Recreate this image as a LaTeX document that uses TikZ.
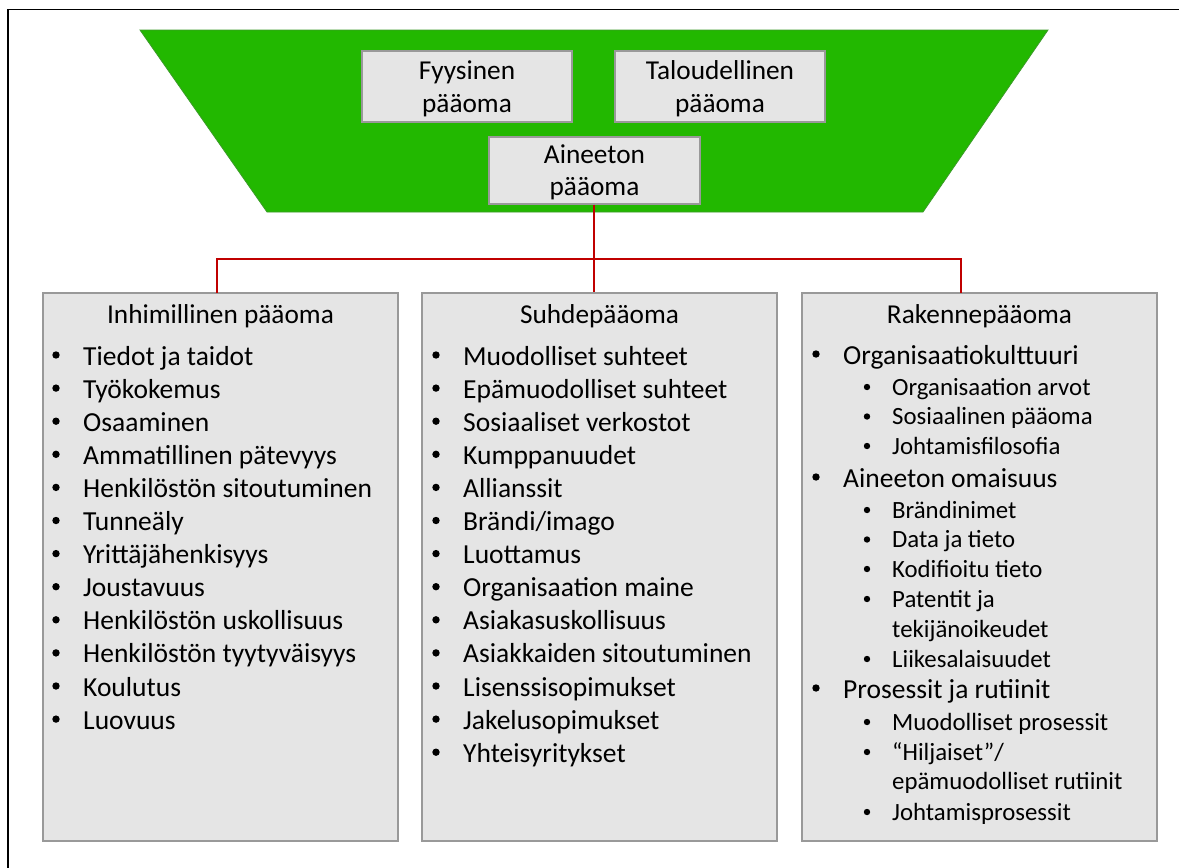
\documentclass[tikz,border=0pt]{standalone}
\usepackage{fontspec}
\setmainfont{Carlito}
\definecolor{grn}{HTML}{22B800}
\definecolor{grnedge}{HTML}{3C9A2A}
\definecolor{boxfill}{HTML}{E5E5E5}
\definecolor{boxedge}{HTML}{999999}
\definecolor{redline}{HTML}{C00000}
\tikzset{
  box/.style={draw=boxedge, fill=boxfill, line width=1.2pt, rectangle, inner sep=0pt},
  big/.style={font=\fontsize{27.5}{33}\selectfont, inner sep=0pt, anchor=base west},
  bigc/.style={font=\fontsize{27.3}{33}\selectfont, inner sep=0pt, anchor=base},
  small/.style={font=\fontsize{24.8}{30}\selectfont, inner sep=0pt, anchor=base west},
  bul/.style={circle, fill=black, inner sep=0pt, minimum size=7.4pt},
  sbul/.style={circle, fill=black, inner sep=0pt, minimum size=6.4pt},
  conn/.style={draw=redline, line width=2pt},
}
\begin{document}
\begin{tikzpicture}[x=1pt,y=-1pt]
\useasboundingbox (0,0) rectangle (1179,868);
\fill[white] (0,0) rectangle (1179,868);
% frame
\draw[black, line width=1.5pt] (8,868) -- (8,9.5) -- (1179,9.5);
% green trapezoid
\draw[grnedge, fill=grn, line width=0.8pt] (140,30) -- (1048,30) -- (923,212) -- (267,212) -- cycle;
% top boxes
\node[box, minimum width=210pt, minimum height=71pt] (F) at (467,86.5) {};
\node[box, minimum width=210pt, minimum height=71pt] (T) at (720,86.5) {};
\node[box, minimum width=211pt, minimum height=67pt] (A) at (594.5,170.5) {};
\node[bigc] (F1) at (467,79) {Fyysinen};
\node[bigc] (F2) at (467,112) {pääoma};
\node[bigc] (T1) at (720,79) {Taloudellinen};
\node[bigc] (T2) at (720,112) {pääoma};
\node[bigc] (A1) at (594.5,163) {Aineeton};
\node[bigc] (A2) at (594.5,195) {pääoma};
% bottom boxes
\node[box, minimum width=355pt, minimum height=548pt] (L) at (220.5,567) {};
\node[box, minimum width=355pt, minimum height=548pt] (M) at (599.5,567) {};
\node[box, minimum width=355pt, minimum height=548pt] (R) at (979.5,567) {};
% connectors
\coordinate (j) at (594,259);
\coordinate (cl) at (217,293);
\coordinate (cr) at (961,293);
\draw[conn] (A.south -| j) -- (j |- M.north);
\draw[conn] (cl) |- (j) -| (cr);
% titles
\node[bigc] (Lt) at (220.5,323) {Inhimillinen pääoma};
\node[bigc] (Mt) at (599.5,323) {Suhdepääoma};
\node[bigc] (Rt) at (979.5,323) {Rakennepääoma};
% left list
\foreach \t [count=\i from 0] in {Tiedot ja taidot, Työkokemus, Osaaminen, Ammatillinen pätevyys, Henkilöstön sitoutuminen, Tunneäly, Yrittäjähenkisyys, Joustavuus, Henkilöstön uskollisuus, Henkilöstön tyytyväisyys, Koulutus, Luovuus}{
  \node[bul] (lb\i) at (56,355+33.1*\i) {};
  \node[big] (li\i) at (83,365+33.1*\i) {\t};
}
% middle list
\foreach \t [count=\i from 0] in {Muodolliset suhteet, Epämuodolliset suhteet, Sosiaaliset verkostot, Kumppanuudet, Allianssit, Brändi/imago, Luottamus, Organisaation maine, Asiakasuskollisuus, Asiakkaiden sitoutuminen, Lisenssisopimukset, Jakelusopimukset, Yhteisyritykset}{
  \node[bul] (mb\i) at (436,355+33.1*\i) {};
  \node[big] (mi\i) at (463,365+33.1*\i) {\t};
}
% right list
\node[bul] (rb1) at (816,354) {};
\node[big] (r1) at (843,364) {Organisaatiokulttuuri};
\node[sbul] (rs1b) at (867,387) {};
\node[small] (rs1) at (892,395) {Organisaation arvot};
\node[sbul] (rs2b) at (867,416.5) {};
\node[small] (rs2) at (892,424.5) {Sosiaalinen pääoma};
\node[sbul] (rs3b) at (867,446) {};
\node[small] (rs3) at (892,454) {Johtamisfilosofia};
\node[bul] (rb2) at (816,477) {};
\node[big] (r2) at (843,487) {Aineeton omaisuus};
\node[sbul] (rs4b) at (867,510) {};
\node[small] (rs4) at (892,518) {Brändinimet};
\node[sbul] (rs5b) at (867,539.5) {};
\node[small] (rs5) at (892,547.5) {Data ja tieto};
\node[sbul] (rs6b) at (867,569) {};
\node[small] (rs6) at (892,577) {Kodifioitu tieto};
\node[sbul] (rs7b) at (867,599) {};
\node[small] (rs7) at (892,607) {Patentit ja};
\node[small] (rs7c) at (892,637) {tekijänoikeudet};
\node[sbul] (rs8b) at (867,659) {};
\node[small] (rs8) at (892,667) {Liikesalaisuudet};
\node[bul] (rb3) at (816,688) {};
\node[big] (r3) at (843,698) {Prosessit ja rutiinit};
\node[sbul] (rs9b) at (867,722) {};
\node[small] (rs9) at (892,730) {Muodolliset prosessit};
\node[sbul] (rs10b) at (867,752) {};
\node[small] (rs10) at (892,760) {“Hiljaiset”/};
\node[small] (rs10c) at (892,789) {epämuodolliset rutiinit};
\node[sbul] (rs11b) at (867,812) {};
\node[small] (rs11) at (892,820) {Johtamisprosessit};
\end{tikzpicture}
\end{document}
